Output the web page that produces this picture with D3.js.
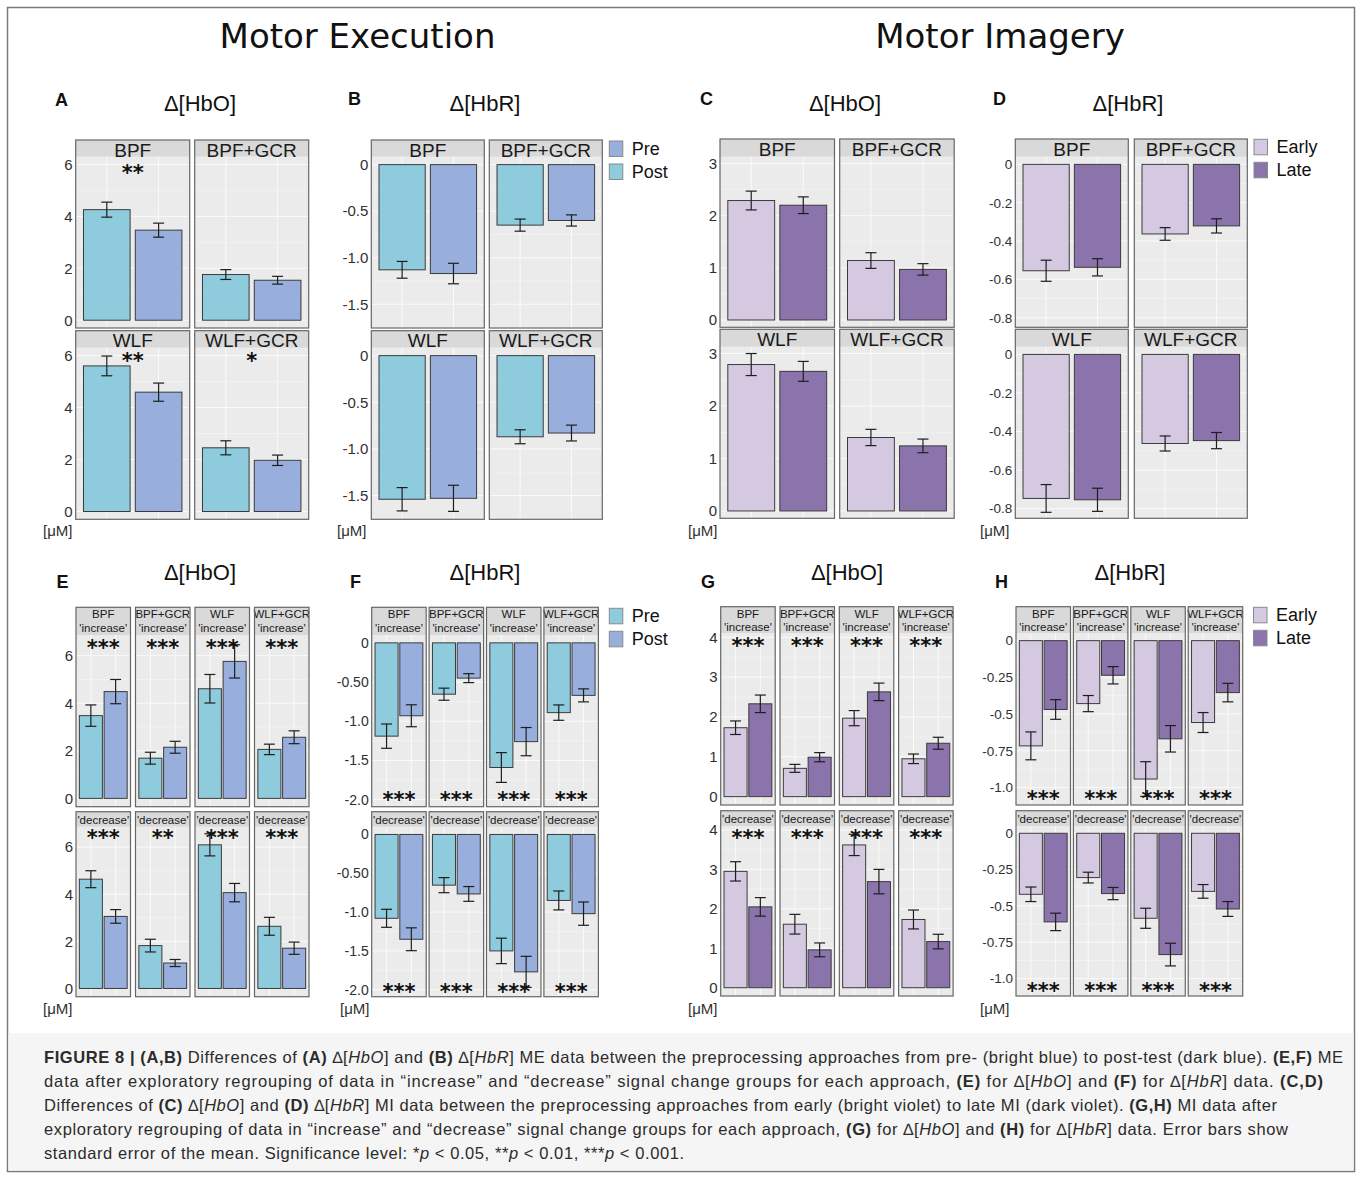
<!DOCTYPE html>
<html><head><meta charset="utf-8">
<script src="https://cdn.jsdelivr.net/npm/d3@7"></script>
<style>body{margin:0;background:#fff}svg{display:block}</style>
</head><body>
<svg id="c" width="1360" height="1180"></svg>
<script>
// ---------------- DATA ----------------
const approaches = ["BPF", "BPF+GCR", "WLF", "WLF+GCR"];
const meGroups = ["Pre", "Post"];
const miGroups = ["Early", "Late"];

// (A) ME Δ[HbO]
const A_pre    = [4.26, 1.76, 5.60, 2.45];
const A_post   = [3.47, 1.54, 4.59, 1.97];
const A_preSE  = [0.29, 0.19, 0.38, 0.27];
const A_postSE = [0.27, 0.15, 0.35, 0.20];
const A_sig    = ["**", "", "**", "*"];
// (B) ME Δ[HbR]
const B_pre    = [-1.13, -0.65, -1.54, -0.87];
const B_post   = [-1.17, -0.60, -1.53, -0.83];
const B_preSE  = [0.09, 0.065, 0.125, 0.075];
const B_postSE = [0.11, 0.06, 0.14, 0.085];
// (C) MI Δ[HbO]
const C_early   = [2.29, 1.14, 2.79, 1.40];
const C_late    = [2.20, 0.97, 2.66, 1.24];
const C_earlySE = [0.18, 0.15, 0.21, 0.155];
const C_lateSE  = [0.16, 0.11, 0.19, 0.13];
// (D) MI Δ[HbR]
const D_early   = [-0.555, -0.363, -0.747, -0.462];
const D_late    = [-0.537, -0.321, -0.754, -0.447];
const D_earlySE = [0.055, 0.033, 0.072, 0.039];
const D_lateSE  = [0.045, 0.037, 0.060, 0.042];
// (E) ME Δ[HbO] regrouped
const E_incPre    = [3.48, 1.69, 4.61, 2.06];
const E_incPost   = [4.49, 2.15, 5.76, 2.57];
const E_incPreSE  = [0.45, 0.25, 0.60, 0.22];
const E_incPostSE = [0.51, 0.25, 0.70, 0.27];
const E_decPre    = [4.64, 1.82, 6.10, 2.64];
const E_decPost   = [3.06, 1.08, 4.07, 1.71];
const E_decPreSE  = [0.36, 0.27, 0.47, 0.38];
const E_decPostSE = [0.29, 0.15, 0.39, 0.26];
const E_incSig = ["***", "***", "***", "***"];
const E_decSig = ["***", "**", "***", "***"];
// (F) ME Δ[HbR] regrouped
const F_incPre    = [-1.19, -0.655, -1.59, -0.89];
const F_incPost   = [-0.93, -0.45, -1.26, -0.67];
const F_incPreSE  = [0.155, 0.077, 0.19, 0.098];
const F_incPostSE = [0.14, 0.057, 0.18, 0.083];
const F_decPre    = [-1.08, -0.653, -1.50, -0.85];
const F_decPost   = [-1.35, -0.766, -1.77, -1.02];
const F_decPreSE  = [0.116, 0.097, 0.164, 0.122];
const F_decPostSE = [0.147, 0.095, 0.20, 0.15];
const F_incSig = ["***", "***", "***", "***"];
const F_decSig = ["***", "***", "***", "***"];
// (G) MI Δ[HbO] regrouped
const G_incEarly   = [1.73, 0.71, 1.97, 0.95];
const G_incLate    = [2.33, 0.99, 2.63, 1.34];
const G_incEarlySE = [0.17, 0.10, 0.19, 0.12];
const G_incLateSE  = [0.22, 0.115, 0.22, 0.15];
const G_decEarly   = [2.95, 1.61, 3.62, 1.73];
const G_decLate    = [2.05, 0.96, 2.69, 1.17];
const G_decEarlySE = [0.245, 0.25, 0.27, 0.24];
const G_decLateSE  = [0.235, 0.175, 0.31, 0.185];
const G_incSig = ["***", "***", "***", "***"];
const G_decSig = ["***", "***", "***", "***"];
// (H) MI Δ[HbR] regrouped
const H_incEarly   = [-0.717, -0.429, -0.943, -0.558];
const H_incLate    = [-0.469, -0.236, -0.669, -0.354];
const H_incEarlySE = [0.095, 0.055, 0.118, 0.068];
const H_incLateSE  = [0.067, 0.059, 0.090, 0.063];
const H_decEarly   = [-0.42, -0.305, -0.585, -0.40];
const H_decLate    = [-0.61, -0.415, -0.835, -0.521];
const H_decEarlySE = [0.050, 0.037, 0.069, 0.047];
const H_decLateSE  = [0.060, 0.042, 0.078, 0.051];
const H_incSig = ["***", "***", "***", "***"];
const H_decSig = ["***", "***", "***", "***"];

// tick values / labels
const A_ticks = [0, 2, 4, 6],               A_tickLabels = ["0", "2", "4", "6"];
const B_ticks = [0, -0.5, -1.0, -1.5],      B_tickLabels = ["0", "-0.5", "-1.0", "-1.5"];
const C_ticks = [0, 1, 2, 3],               C_tickLabels = ["0", "1", "2", "3"];
const D_ticks = [0, -0.2, -0.4, -0.6, -0.8], D_tickLabels = ["0", "-0.2", "-0.4", "-0.6", "-0.8"];
const E_ticks = [0, 2, 4, 6],               E_tickLabels = ["0", "2", "4", "6"];
const F_ticks = [0, -0.5, -1, -1.5, -2],    F_tickLabels = ["0", "-0.50", "-1.0", "-1.5", "-2.0"];
const G_ticks = [0, 1, 2, 3, 4],            G_tickLabels = ["0", "1", "2", "3", "4"];
const H_ticks = [0, -0.25, -0.5, -0.75, -1.0], H_tickLabels = ["0", "-0.25", "-0.5", "-0.75", "-1.0"];

const captionLines = [
  "§FIGURE 8 | (A,B)§ Differences of §(A)§ ∆[~HbO~] and §(B)§ ∆[~HbR~] ME data between the preprocessing approaches from pre- (bright blue) to post-test (dark blue). §(E,F)§ ME",
  "data after exploratory regrouping of data in “increase” and “decrease” signal change groups for each approach, §(E)§ for ∆[~HbO~] and §(F)§ for ∆[~HbR~] data. §(C,D)§",
  "Differences of §(C)§ ∆[~HbO~] and §(D)§ ∆[~HbR~] MI data between the preprocessing approaches from early (bright violet) to late MI (dark violet). §(G,H)§ MI data after",
  "exploratory regrouping of data in “increase” and “decrease” signal change groups for each approach, §(G)§ for ∆[~HbO~] and §(H)§ for ∆[~HbR~] data. Error bars show",
  "standard error of the mean. Significance level: *~p~ < 0.05, **~p~ < 0.01, ***~p~ < 0.001."
];

// ---------------- STYLE ----------------
const FONT = "'Liberation Sans', Arial, Helvetica, sans-serif";
const STARFONT = "'DejaVu Sans', sans-serif";
const C_PRE = "#8ecbdc", C_POST = "#98afdd";
const C_EARLY = "#d4c9e1", C_LATE = "#8b73ab";

const svg = d3.select("#c");
svg.append("rect").attr("x", 7.5).attr("y", 7.5).attr("width", 1347).attr("height", 1164)
  .attr("fill", "#fff").attr("stroke", "#7a7a7a").attr("stroke-width", 1.5);
svg.append("rect").attr("x", 8.5).attr("y", 1033).attr("width", 1345).attr("height", 137.5)
  .attr("fill", "#f5f5f5");

function txt(x, y, s, size, opts = {}) {
  return svg.append("text").attr("x", x).attr("y", y).text(s)
    .attr("font-family", opts.family || FONT).attr("font-size", size)
    .attr("font-weight", opts.weight || "normal").attr("fill", opts.fill || "#111")
    .attr("text-anchor", opts.anchor || "start");
}

// big headings
txt(357.5, 48, "Motor Execution", 34, {family: "'DejaVu Sans', sans-serif", anchor: "middle"});
txt(1000, 48, "Motor Imagery", 34, {family: "'DejaVu Sans', sans-serif", anchor: "middle"});

// ---------------- FACET GROUP ----------------
function facetGroup(cfg) {
  const g = svg.append("g");
  cfg.rows.forEach(row => {
    const py0 = row.top + row.stripH, py1 = py0 + row.panelH;
    const y = d3.scaleLinear().domain(cfg.domain).range([py1, py0]);
    const ax = g.append("g").attr("transform", `translate(${cfg.x0},0)`)
      .call(d3.axisLeft(y).tickValues(cfg.ticks).tickFormat((d, i) => cfg.tickLabels[i])
        .tickSize(0).tickPadding(3));
    ax.select(".domain").remove();
    ax.selectAll("text").attr("font-family", FONT).attr("font-size", cfg.tickSize)
      .attr("fill", "#303030");

    row.facets.forEach((f, ci) => {
      const fx = cfg.x0 + ci * cfg.pitch;
      const x = d3.scaleLinear().domain([0.4, 2.6]).range([fx, fx + cfg.colW]);
      const fg = g.append("g");
      // panel background
      fg.append("rect").attr("x", fx).attr("y", py0).attr("width", cfg.colW).attr("height", row.panelH)
        .attr("fill", "#ebebeb");
      // grid lines
      const step = cfg.ticks[1] - cfg.ticks[0];
      const minor = cfg.ticks.map(t => t + step / 2).filter(v => v > cfg.domain[0] && v < cfg.domain[1]);
      fg.selectAll(null).data(minor).join("line")
        .attr("x1", fx).attr("x2", fx + cfg.colW).attr("y1", d => y(d)).attr("y2", d => y(d))
        .attr("stroke", "#f6f6f6").attr("stroke-width", 0.6);
      fg.selectAll(null).data(cfg.ticks).join("line")
        .attr("x1", fx).attr("x2", fx + cfg.colW).attr("y1", d => y(d)).attr("y2", d => y(d))
        .attr("stroke", "#fafafa").attr("stroke-width", 1);
      fg.selectAll(null).data([1, 2]).join("line")
        .attr("x1", d => x(d)).attr("x2", d => x(d)).attr("y1", py0).attr("y2", py1)
        .attr("stroke", "#fafafa").attr("stroke-width", 1);
      // strip
      fg.append("rect").attr("x", fx).attr("y", row.top).attr("width", cfg.colW).attr("height", row.stripH)
        .attr("fill", "#d9d9d9");
      f.strip.forEach((s, li) => {
        fg.append("text").attr("x", fx + cfg.colW / 2).attr("y", row.top + row.stripBase[li])
          .attr("text-anchor", "middle").attr("font-family", FONT)
          .attr("font-size", cfg.stripSize).attr("fill", "#1a1a1a").text(s);
      });
      // bars
      const vals = [f.a, f.b], errs = [f.ea, f.eb];
      fg.selectAll(null).data(vals).join("rect")
        .attr("x", (d, i) => x(i + 1 - cfg.bw / 2))
        .attr("width", x(1 + cfg.bw / 2) - x(1 - cfg.bw / 2))
        .attr("y", d => y(Math.max(0, d)))
        .attr("height", d => Math.abs(y(d) - y(0)))
        .attr("fill", (d, i) => cfg.colors[i])
        .attr("stroke", "#3b3b3b").attr("stroke-width", 1);
      // error bars
      const eb = fg.selectAll(null).data(vals.map((v, i) => ({v, e: errs[i], i}))).join("g");
      eb.append("line").attr("x1", d => x(d.i + 1)).attr("x2", d => x(d.i + 1))
        .attr("y1", d => y(d.v + d.e)).attr("y2", d => y(d.v - d.e));
      eb.append("line").attr("x1", d => x(d.i + 1) - 5.5).attr("x2", d => x(d.i + 1) + 5.5)
        .attr("y1", d => y(d.v + d.e)).attr("y2", d => y(d.v + d.e));
      eb.append("line").attr("x1", d => x(d.i + 1) - 5.5).attr("x2", d => x(d.i + 1) + 5.5)
        .attr("y1", d => y(d.v - d.e)).attr("y2", d => y(d.v - d.e));
      eb.selectAll("line").attr("stroke", "#1e1e1e").attr("stroke-width", 1.2);
      // significance
      if (f.sig) {
        fg.append("text").attr("x", x(1.5)).attr("y", y(row.sigY) + 12)
          .attr("text-anchor", "middle").attr("font-family", STARFONT).attr("font-weight", "bold")
          .attr("font-size", 21).attr("fill", "#111").text(f.sig);
      }
      // frame
      fg.append("rect").attr("x", fx).attr("y", row.top).attr("width", cfg.colW)
        .attr("height", row.stripH + row.panelH)
        .attr("fill", "none").attr("stroke", "#666").attr("stroke-width", 1.2);
    });
  });
}

function twoByTwo(a, b, ea, eb, sig) {
  const f = i => ({strip: [approaches[i]], a: a[i], b: b[i], ea: ea[i], eb: eb[i], sig: sig ? sig[i] : ""});
  return [[f(0), f(1)], [f(2), f(3)]];
}
function regrouped(ia, ib, iea, ieb, isig, da, db, dea, deb, dsig) {
  const top = approaches.map((ap, i) => ({strip: [ap, "'increase'"], a: ia[i], b: ib[i], ea: iea[i], eb: ieb[i], sig: isig[i]}));
  const bot = approaches.map((ap, i) => ({strip: ["'decrease'"], a: da[i], b: db[i], ea: dea[i], eb: deb[i], sig: dsig[i]}));
  return [top, bot];
}

// ---- layouts
const rowsAB = (f, sy) => [
  {top: 140, stripH: 16.7, panelH: 171.3, stripBase: [16.5], facets: f[0], sigY: sy[0]},
  {top: 330.7, stripH: 17, panelH: 171.6, stripBase: [16.5], facets: f[1], sigY: sy[1]}];
const rowsCD = f => [
  {top: 139, stripH: 17.7, panelH: 170.6, stripBase: [16.7], facets: f[0], sigY: 0},
  {top: 329.3, stripH: 17.4, panelH: 171.6, stripBase: [16.7], facets: f[1], sigY: 0}];
const rowsEF = (f, sy) => [
  {top: 607.3, stripH: 27.7, panelH: 171.7, stripBase: [11, 24.2], facets: f[0], sigY: sy[0]},
  {top: 811.7, stripH: 15, panelH: 170, stripBase: [12.5], facets: f[1], sigY: sy[1]}];
const rowsGH = (f, sy) => [
  {top: 606.7, stripH: 26.6, panelH: 171.7, stripBase: [11, 24], facets: f[0], sigY: sy[0]},
  {top: 810.7, stripH: 15.3, panelH: 170, stripBase: [12.5], facets: f[1], sigY: sy[1]}];

facetGroup({x0: 75.7, colW: 114, pitch: 119, bw: 0.9, domain: [-0.3, 6.3], ticks: A_ticks, tickLabels: A_tickLabels,
  tickSize: 15, stripSize: 19, colors: [C_PRE, C_POST],
  rows: rowsAB(twoByTwo(A_pre, A_post, A_preSE, A_postSE, A_sig), [5.85, 5.97])});
facetGroup({x0: 371.3, colW: 113, pitch: 118, bw: 0.9, domain: [-1.755, 0.085], ticks: B_ticks, tickLabels: B_tickLabels,
  tickSize: 15, stripSize: 19, colors: [C_PRE, C_POST],
  rows: rowsAB(twoByTwo(B_pre, B_post, B_preSE, B_postSE, null), [0, 0])});
facetGroup({x0: 720, colW: 114.5, pitch: 119.7, bw: 0.9, domain: [-0.14, 3.13], ticks: C_ticks, tickLabels: C_tickLabels,
  tickSize: 15, stripSize: 19, colors: [C_EARLY, C_LATE],
  rows: rowsCD(twoByTwo(C_early, C_late, C_earlySE, C_lateSE, null))});
facetGroup({x0: 1015.3, colW: 113, pitch: 119, bw: 0.9, domain: [-0.85, 0.04], ticks: D_ticks, tickLabels: D_tickLabels,
  tickSize: 13.5, stripSize: 19, colors: [C_EARLY, C_LATE],
  rows: rowsCD(twoByTwo(D_early, D_late, D_earlySE, D_lateSE, null))});

facetGroup({x0: 76, colW: 54.5, pitch: 59.5, bw: 0.93, domain: [-0.35, 6.87], ticks: E_ticks, tickLabels: E_tickLabels,
  tickSize: 15, stripSize: 11.5, colors: [C_PRE, C_POST],
  rows: rowsEF(regrouped(E_incPre, E_incPost, E_incPreSE, E_incPostSE, E_incSig,
                         E_decPre, E_decPost, E_decPreSE, E_decPostSE, E_decSig), [6.55, 6.6])});
facetGroup({x0: 371.7, colW: 54.5, pitch: 57.4, bw: 0.93, domain: [-2.09, 0.1], ticks: F_ticks, tickLabels: F_tickLabels,
  tickSize: 14, stripSize: 11.5, colors: [C_PRE, C_POST],
  rows: rowsEF(regrouped(F_incPre, F_incPost, F_incPreSE, F_incPostSE, F_incSig,
                         F_decPre, F_decPost, F_decPreSE, F_decPostSE, F_decSig), [-1.94, -1.97])});
facetGroup({x0: 720.7, colW: 54.5, pitch: 59.3, bw: 0.93, domain: [-0.21, 4.1], ticks: G_ticks, tickLabels: G_tickLabels,
  tickSize: 15, stripSize: 11.5, colors: [C_EARLY, C_LATE],
  rows: rowsGH(regrouped(G_incEarly, G_incLate, G_incEarlySE, G_incLateSE, G_incSig,
                         G_decEarly, G_decLate, G_decEarlySE, G_decLateSE, G_decSig), [3.9, 3.91])});
facetGroup({x0: 1016, colW: 54.5, pitch: 57.4, bw: 0.93, domain: [-1.12, 0.05], ticks: H_ticks, tickLabels: H_tickLabels,
  tickSize: 13.5, stripSize: 11.5, colors: [C_EARLY, C_LATE],
  rows: rowsGH(regrouped(H_incEarly, H_incLate, H_incEarlySE, H_incLateSE, H_incSig,
                         H_decEarly, H_decLate, H_decEarlySE, H_decLateSE, H_decSig), [-1.045, -1.05])});

// ---------------- labels, titles, units ----------------
const panelLetters = [["A", 55, 106], ["B", 348, 105], ["C", 700, 105], ["D", 993, 105],
                      ["E", 56.5, 588], ["F", 350, 588], ["G", 701, 588], ["H", 995, 588]];
panelLetters.forEach(([l, x, y]) => txt(x, y, l, 18, {weight: "bold"}));
const titles = [["Δ[HbO]", 200, 111], ["Δ[HbR]", 485, 111], ["Δ[HbO]", 845, 111], ["Δ[HbR]", 1128, 111],
                ["Δ[HbO]", 200, 580], ["Δ[HbR]", 485, 580], ["Δ[HbO]", 847, 580], ["Δ[HbR]", 1130, 580]];
titles.forEach(([t, x, y]) => txt(x, y, t, 22, {anchor: "middle"}));
const units = [[43, 536], [337, 536], [688, 536], [980, 536], [43, 1014], [340, 1014], [688, 1014], [980, 1014]];
units.forEach(([x, y]) => txt(x, y, "[μM]", 15, {fill: "#303030"}));

// ---------------- legends ----------------
function legend(x, y0, labels, colors) {
  labels.forEach((l, i) => {
    const y = y0 + i * 23;
    svg.append("rect").attr("x", x).attr("y", y).attr("width", 13.5).attr("height", 15.5)
      .attr("fill", colors[i]).attr("stroke", "#8a8a8a").attr("stroke-width", 1);
    txt(x + 22.5, y + 14, l, 18);
  });
}
legend(609.3, 141, meGroups, [C_POST, C_PRE]);
legend(1254, 139.3, miGroups, [C_EARLY, C_LATE]);
legend(609.3, 608.3, meGroups, [C_PRE, C_POST]);
legend(1253.5, 607.3, miGroups, [C_EARLY, C_LATE]);

// ---------------- caption ----------------
const capWidths = [1299, 1279, 1233, 1244, 640];
captionLines.forEach((line, i) => {
  const t = svg.append("text").attr("x", 44).attr("y", 1063 + i * 24)
    .attr("font-family", FONT).attr("font-size", 16.5).attr("fill", "#2b2b2b")
    .attr("textLength", capWidths[i]).attr("lengthAdjust", "spacing");
  line.split(/(§[^§]*§|~[^~]*~)/).filter(s => s.length).forEach(seg => {
    const ts = t.append("tspan");
    if (seg[0] === "§") ts.attr("font-weight", "bold").text(seg.slice(1, -1));
    else if (seg[0] === "~") ts.attr("font-style", "italic").text(seg.slice(1, -1));
    else ts.text(seg);
  });
});
</script>
</body></html>
